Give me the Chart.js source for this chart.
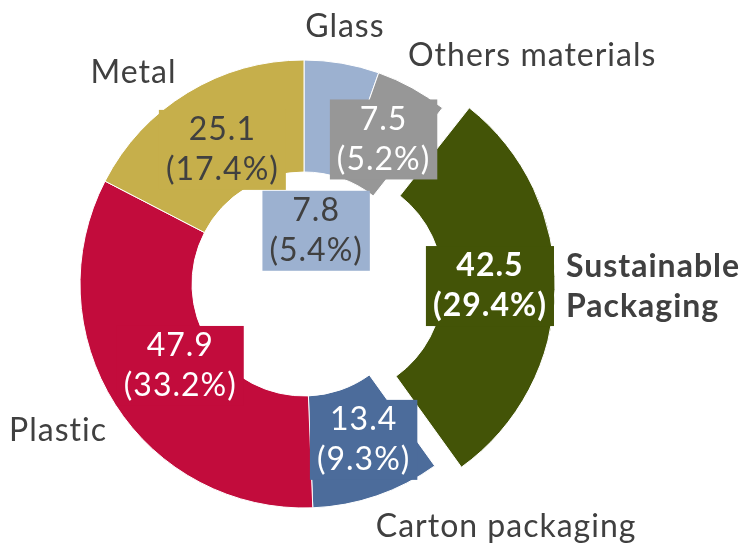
<!DOCTYPE html>
<html>
<head>
<meta charset="utf-8">
<script src="https://cdn.jsdelivr.net/npm/chart.js@4/dist/chart.umd.min.js"></script>
<style>
  html, body { margin: 0; padding: 0; background: #fff; }
  #wrap { width: 752px; height: 546px; position: relative; }
</style>
</head>
<body>
<div id="wrap"><canvas id="packaging"></canvas></div>
<script>
// slices, clockwise from 12 o'clock
const categories = ["Glass", "Others materials", "Sustainable\nPackaging", "Carton packaging", "Plastic", "Metal"];
const values = [7.8, 7.5, 42.5, 13.4, 47.9, 25.1];
const shares = ["5.4%", "5.2%", "29.4%", "9.3%", "33.2%", "17.4%"];

const sliceColors = ["#9cb1d0", "#979797", "#435407", "#4c6c9b", "#c20c3c", "#c6af4b"];
const valueTextColors = ["#404040", "#ffffff", "#ffffff", "#ffffff", "#ffffff", "#404040"];
const boldSlice = [false, false, true, false, false, false];
const sliceOffsets = [0, 0, 104, 0, 0, 0];

// where the value boxes sit (distance from centre along the slice middle)
const valueRadius = [54, 165, 160, 168, 149, 157];
const valueNudge = [[3, 0], [0, 0], [0, -2], [5, -3], [2, 2], [0, 0]];
// category label: nudge from the outer edge middle point, and alignment
const nameNudge = [[3, -37], [-4, -32], [12, -3], [-1, 31], [-8, 26], [-11, -20]];
const nameAlign = ["center", "left", "left", "left", "right", "right"];

const FONT = "Lato, 'Open Sans', sans-serif";
const LINE = 40;

function drawLines(ctx, lines, x, y, align) {
  const top = y - (lines.length * LINE) / 2 + LINE / 2;
  ctx.textAlign = align;
  ctx.textBaseline = "middle";
  lines.forEach((line, k) => ctx.fillText(line, x, top + k * LINE));
}

const sliceLabels = {
  id: "sliceLabels",
  afterDatasetsDraw(chart) {
    const ctx = chart.ctx;
    const meta = chart.getDatasetMeta(0);
    ctx.save();
    ctx.letterSpacing = "1px";
    meta.data.forEach((arc, i) => {
      const p = arc.getProps(["x", "y", "startAngle", "endAngle", "outerRadius"], true);
      const mid = (p.startAngle + p.endAngle) / 2;
      const shift = (arc.options.offset || 0) / 4;
      const cx = p.x + Math.cos(mid) * shift;
      const cy = p.y + Math.sin(mid) * shift;

      // value box
      const weight = boldSlice[i] ? "bold " : "";
      ctx.font = weight + "32px " + FONT;
      const lines = [String(values[i]), "(" + shares[i] + ")"];
      const w = Math.max(...lines.map((l) => ctx.measureText(l).width)) + 14;
      const h = lines.length * LINE;
      const vx = cx + Math.cos(mid) * valueRadius[i] + valueNudge[i][0];
      const vy = cy + Math.sin(mid) * valueRadius[i] + valueNudge[i][1];
      ctx.fillStyle = sliceColors[i];
      ctx.fillRect(vx - w / 2, vy - h / 2, w, h);
      ctx.fillStyle = valueTextColors[i];
      drawLines(ctx, lines, vx, vy, "center");

      // category name outside the ring
      const ox = cx + Math.cos(mid) * p.outerRadius + nameNudge[i][0];
      const oy = cy + Math.sin(mid) * p.outerRadius + nameNudge[i][1];
      ctx.fillStyle = "#404040";
      drawLines(ctx, categories[i].split("\n"), ox, oy, nameAlign[i]);
    });
    ctx.restore();
  },
};

new Chart(document.getElementById("packaging"), {
  type: "doughnut",
  data: {
    labels: categories,
    datasets: [
      {
        data: values,
        backgroundColor: sliceColors,
        borderColor: "#ffffff",
        borderWidth: 1,
        offset: sliceOffsets,
      },
    ],
  },
  options: {
    responsive: true,
    maintainAspectRatio: false,
    animation: false,
    radius: 224,
    cutout: "50%",
    layout: { padding: { left: 0, right: 144, top: 22, bottom: 0 } },
    plugins: {
      legend: { display: false },
      tooltip: { enabled: false },
    },
  },
  plugins: [sliceLabels],
});
</script>
</body>
</html>
